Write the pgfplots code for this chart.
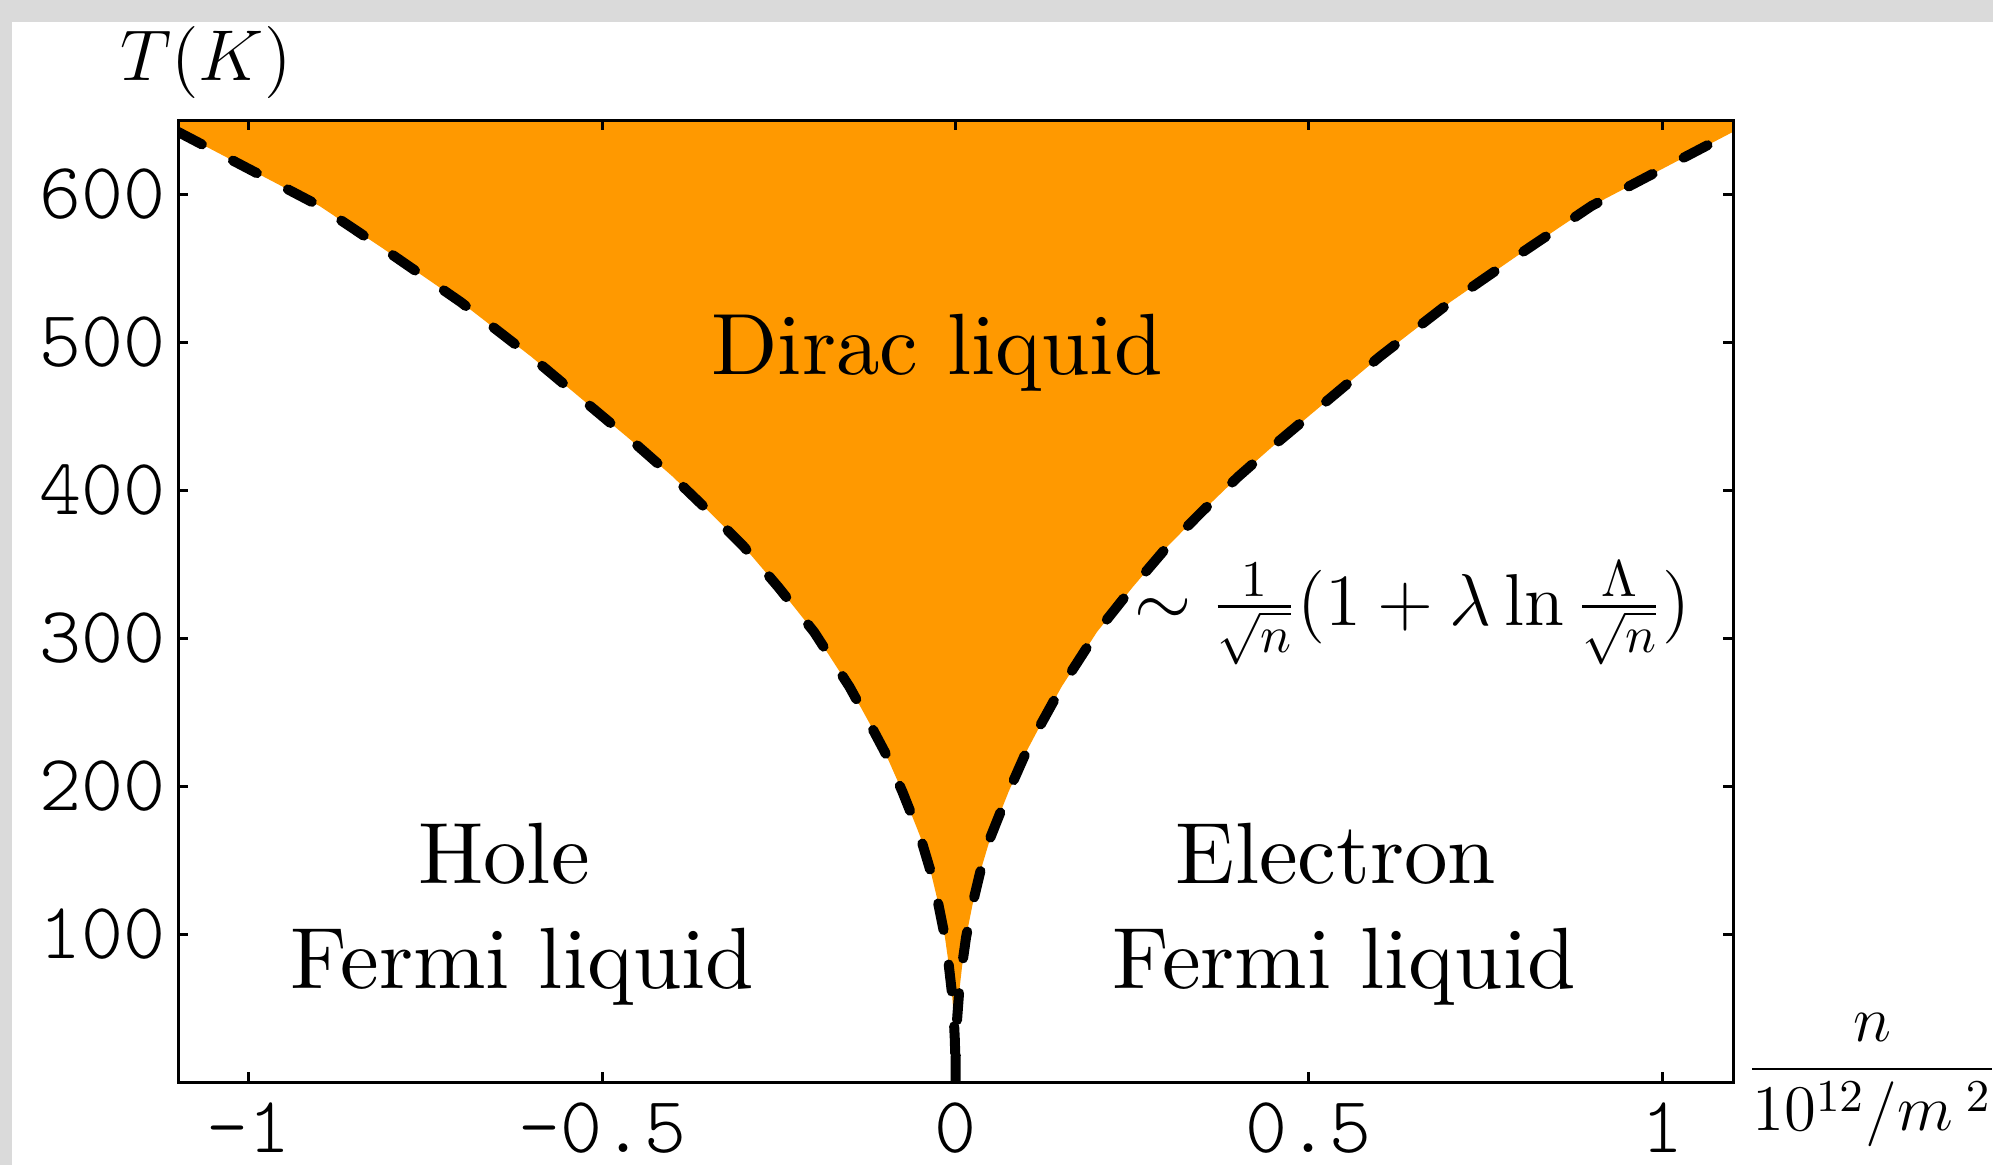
\RequirePackage{fix-cm}
\documentclass[border=0pt]{standalone}
\usepackage{fontspec}
\usepackage{amsmath}
\usepackage{pgfplots}
\pgfplotsset{compat=1.18}
\newfontfamily\tickfont{lmmonolt10-regular.otf}
\newfontfamily\lblfont{lmroman10-regular.otf}
\definecolor{dirac}{RGB}{255,153,0}
\definecolor{framegray}{RGB}{218,218,218}
\newcommand\lbl{\lblfont\fontsize{17.4}{21}\selectfont}
\newcommand\mth{\fontsize{14.4}{17}\selectfont}

\begin{document}
\begin{tikzpicture}
\useasboundingbox (-35.6pt,-16.6pt) rectangle (363pt,216.4pt);
\fill[framegray] (-35.6pt,-16.6pt) rectangle (-33.2pt,216.4pt);
\fill[framegray] (-35.6pt,212pt) rectangle (363pt,216.4pt);
\begin{axis}[
  at={(0,0)},anchor=south west,
  scale only axis,width=311pt,height=192.4pt,
  xmin=-1.1,xmax=1.1,ymin=0,ymax=650,
  xtick={-1,-0.5,0,0.5,1},
  xticklabels={-1,-0.5,0,0.5,1},
  ytick={100,200,300,400,500,600},
  yticklabels={100,200,300,400,500,600},
  tick align=inside,
  major tick length=2pt,
  axis line style={line width=0.6pt},
  tick style={line width=0.6pt,black},
  ticklabel style={font=\tickfont\fontsize{16}{19}\selectfont},
  xticklabel style={anchor=north,inner sep=0pt,yshift=-4pt},
  yticklabel style={anchor=east,inner sep=0pt,xshift=-2.2pt},
  axis on top]
% orange region between the two crossover lines
\addplot[fill=dirac,draw=none] coordinates {
(-1.1,700) (-1.1,642) (-1.0,617) (-0.9,592) (-0.8,560) (-0.7,527) (-0.6,490)
(-0.5,450) (-0.45,430) (-0.4,409) (-0.35,386) (-0.3,362) (-0.25,334) (-0.2,304)
(-0.15,267) (-0.12,241) (-0.1,223) (-0.075,196) (-0.05,166) (-0.035,142)
(-0.025,122) (-0.015,98) (-0.01,81) (-0.005,60) (-0.0025,44) (-0.001,29) (-0.0003,17) (0,0)
(0.0003,17) (0.001,29) (0.0025,44) (0.005,60) (0.01,81) (0.015,98) (0.025,122)
(0.035,142) (0.05,166) (0.075,196) (0.1,223) (0.12,241) (0.15,267) (0.2,304)
(0.25,334) (0.3,362) (0.35,386) (0.4,409) (0.45,430) (0.5,450) (0.6,490)
(0.7,527) (0.8,560) (0.9,592) (1.0,617) (1.1,642) (1.1,700)};
% hole side
\addplot[black,line width=2pt,line cap=round,dash pattern=on 5.4pt off 7pt] coordinates {
(-1.1,642) (-1.0,617) (-0.9,592) (-0.8,560) (-0.7,527) (-0.6,490)
(-0.5,450) (-0.45,430) (-0.4,409) (-0.35,386) (-0.3,362) (-0.25,334) (-0.2,304)
(-0.15,267) (-0.12,241) (-0.1,223) (-0.075,196) (-0.05,166) (-0.035,142)
(-0.025,122) (-0.015,98) (-0.01,81) (-0.005,60) (-0.0025,44) (-0.001,29) (-0.0003,17) (0,0)};
% electron side
\addplot[black,line width=2pt,line cap=round,dash pattern=on 5.4pt off 7pt] coordinates {
(0,0) (0.0003,17) (0.001,29) (0.0025,44) (0.005,60) (0.01,81) (0.015,98) (0.025,122)
(0.035,142) (0.05,166) (0.075,196) (0.1,223) (0.12,241) (0.15,267) (0.2,304)
(0.25,334) (0.3,362) (0.35,386) (0.4,409) (0.45,430) (0.5,450) (0.6,490)
(0.7,527) (0.8,560) (0.9,592) (1.0,617) (1.1,642)};
\end{axis}
\node[anchor=base,inner sep=0pt] at (151.8pt,141.4pt) {\lbl Dirac liquid};
\node[anchor=base,inner sep=0pt] at (65.2pt,39.8pt) {\lbl Hole};
\node[anchor=base,inner sep=0pt] at (68.9pt,18.8pt) {\lbl Fermi liquid};
\node[anchor=base,inner sep=0pt] at (231.6pt,39.8pt) {\lbl Electron};
\node[anchor=base,inner sep=0pt] at (233.2pt,18.8pt) {\lbl Fermi liquid};
\node[anchor=west,inner sep=0pt] at (191pt,93.8pt)
  {\fontsize{14.7}{17}\selectfont$\sim\frac{1}{\sqrt{n}}(1+\lambda\ln\frac{\Lambda}{\sqrt{n}})$};
\node[inner sep=0pt] at (5.6pt,203.8pt) {\mth$T(K)$};
\node[anchor=base,inner sep=0pt] at (338.8pt,-0.7pt)
  {\fontsize{13}{15}\selectfont$\dfrac{n}{10^{12}/m^{\;2}}$};
\end{tikzpicture}
\end{document}
